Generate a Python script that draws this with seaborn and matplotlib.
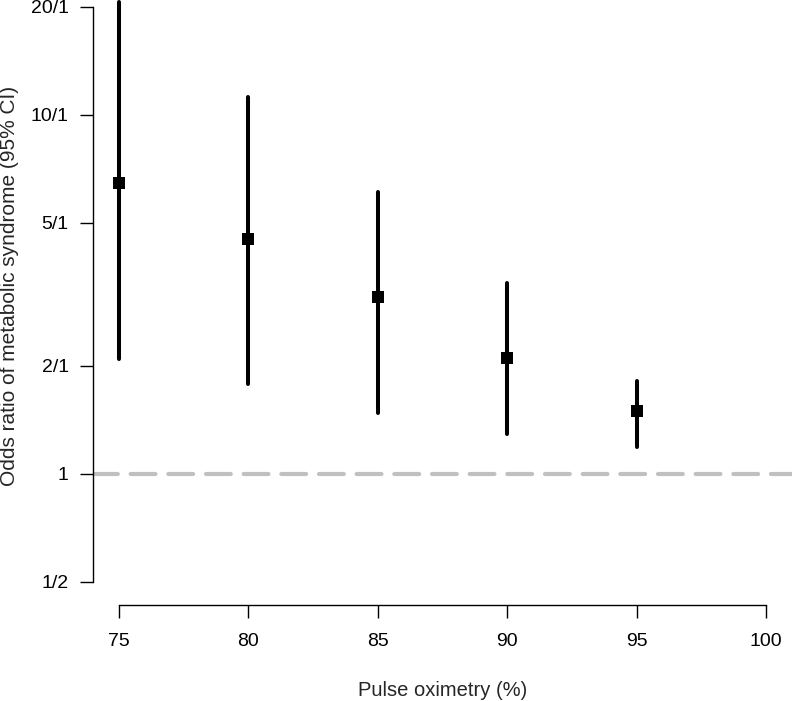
import matplotlib
matplotlib.use("Agg")
import matplotlib.pyplot as plt
import numpy as np
import pandas as pd
import seaborn as sns

# ----------------------------
# Data
# ----------------------------
oximetry = [75, 80, 85, 90, 95]
odds_ratio = [6.47, 4.50, 3.10, 2.10, 1.50]
ci_lower = [2.09, 1.78, 1.48, 1.29, 1.19]
ci_upper = [20.6, 11.24, 6.10, 3.41, 1.81]

x_ticks = [75, 80, 85, 90, 95, 100]
y_ticks = [0.5, 1, 2, 5, 10, 20]
y_tick_labels = ["1/2", "1", "2/1", "5/1", "10/1", "20/1"]

# ----------------------------
# Style
# ----------------------------
sns.set_theme(style="ticks")
plt.rcParams["font.family"] = ["Liberation Sans", "DejaVu Sans"]

df = pd.DataFrame({"oximetry": oximetry, "or": odds_ratio, "lo": ci_lower, "hi": ci_upper})

W, H = 792, 701
fig = plt.figure(figsize=(W / 100, H / 100), dpi=100)
ax = fig.add_axes([93 / W, (H - 605) / H, (W - 93) / W, 605 / H])

# reference line at OR = 1
ax.axhline(1, color="#c0c0c0", lw=3, linestyle=(0, (5.95, 3.09)),
           dash_capstyle="round", zorder=1)

# confidence intervals
ax.vlines(df["oximetry"], df["lo"], df["hi"], color="black", lw=2.9,
          capstyle="round", zorder=2, clip_on=False)

# point estimates
sns.scatterplot(data=df, x="oximetry", y="or", marker="s", s=85, color="black",
                linewidth=0, zorder=3, ax=ax, clip_on=False)

ax.set_yscale("log")
ax.set_xlim(74, 101)
ax.set_ylim(0.431, 20.9)
ax.set_yticks(y_ticks)
ax.set_yticklabels(y_tick_labels)
ax.yaxis.set_minor_locator(matplotlib.ticker.NullLocator())
ax.set_xticks(x_ticks)

ax.spines["top"].set_visible(False)
ax.spines["right"].set_visible(False)
ax.spines["left"].set_bounds(0.5, 20)
ax.spines["bottom"].set_bounds(75, 100)
for s in ["left", "bottom"]:
    ax.spines[s].set_linewidth(1.0)
    ax.spines[s].set_color("black")

ax.tick_params(axis="both", length=9.5, width=1.0, labelsize=14, colors="black")
ax.tick_params(axis="y", pad=8)
ax.tick_params(axis="x", pad=11)

ax.set_xlabel("Pulse oximetry (%)", fontsize=14.5)
ax.set_ylabel("Odds ratio of metabolic syndrome (95% CI)", fontsize=15)
ax.xaxis.set_label_coords(0.5, -0.125)
ax.yaxis.set_label_coords(-0.106, 0.528)

fig.savefig("out.png", dpi=100)
